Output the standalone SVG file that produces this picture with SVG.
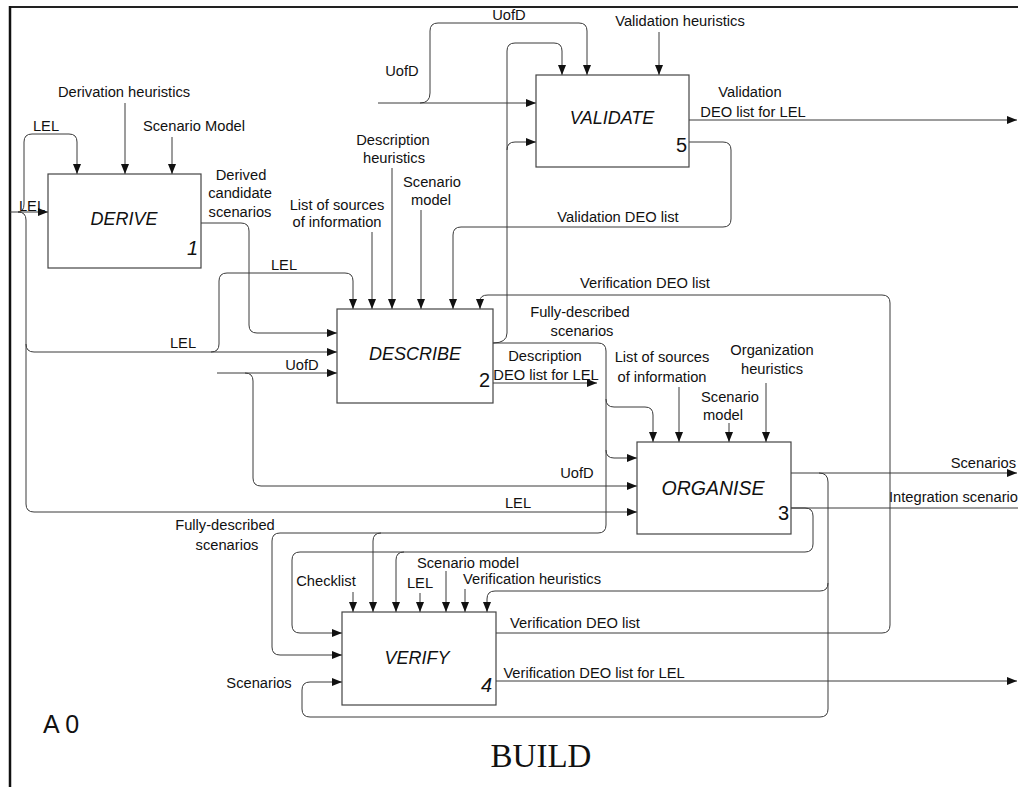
<svg xmlns="http://www.w3.org/2000/svg" width="1018" height="787" viewBox="0 0 1018 787">
<defs>
<marker id="ah" markerUnits="userSpaceOnUse" markerWidth="11" markerHeight="8" refX="10" refY="4" orient="auto">
<path d="M0,0 L10,4 L0,8 z" fill="#111"/>
</marker>
<style>
.box{fill:#fff;stroke:#444;stroke-width:1.2}
.ln{fill:none;stroke:#3a3a3a;stroke-width:1}
.ar{fill:none;stroke:#3a3a3a;stroke-width:1;marker-end:url(#ah)}
.t{font-family:"Liberation Sans",Arial,sans-serif;font-size:14.7px;fill:#111;text-anchor:middle}
.bl{font-family:"Liberation Sans",Arial,sans-serif;font-size:18px;font-style:italic;fill:#111;text-anchor:middle}
.num{font-family:"Liberation Sans",Arial,sans-serif;font-size:20px;fill:#111;text-anchor:end}
</style>
</defs>
<rect width="1018" height="787" fill="#fff"/>
<g id="frame">
<line x1="10" y1="7" x2="1018" y2="7" stroke="#222" stroke-width="2"/>
<line x1="10" y1="6" x2="10" y2="787" stroke="#111" stroke-width="2.5"/>
</g>
<g id="connectors">
<path class="ar" d="M10,212 H48"/>
<path class="ar" d="M18,212 Q24,212 24,204 V142 Q24,134 32,134 H69 Q77,134 77,142 V174"/>
<path class="ar" d="M18,212 Q26,212 26,220 V344 Q26,352 34,352 H337"/>
<path class="ar" d="M26,344 V504 Q26,512 34,512 H637"/>
<path class="ar" d="M211,352 Q219,352 219,344 V281 Q219,273 227,273 H345 Q353,273 353,281 V309"/>
<path class="ar" d="M125,103 V174"/>
<path class="ar" d="M172,137 V174"/>
<path class="ar" d="M201,223 H241 Q249,223 249,231 V325 Q249,333 257,333 H337"/>
<path class="ar" d="M372,232 V309"/>
<path class="ar" d="M392,168 V309"/>
<path class="ar" d="M421,210 V309"/>
<path class="ar" d="M217,373 H337"/>
<path class="ar" d="M245,373 Q253,373 253,381 V478 Q253,486 261,486 H637"/>
<path class="ar" d="M378,103 H536"/>
<path class="ar" d="M420,103 Q430,103 430,93 V31 Q430,23 438,23 H579 Q587,23 587,31 V75"/>
<path class="ar" d="M493,343 Q507,343 507,333 V51 Q507,43 515,43 H554 Q562,43 562,51 V75"/>
<path class="ar" d="M507,150 Q507,142 515,142 H536"/>
<path class="ar" d="M493,343 H598 Q606,343 606,351 V525 Q606,533 598,533 H280 Q272,533 272,541 V647 Q272,655 280,655 H342"/>
<path class="ar" d="M381,533 Q373,533 373,541 V612"/>
<path class="ar" d="M606,399 Q606,407 614,407 H645 Q653,407 653,415 V442"/>
<path class="ar" d="M606,450 Q606,458 614,458 H637"/>
<path class="ar" d="M659,32 V75"/>
<path class="ar" d="M689,120 H1017"/>
<path class="ar" d="M689,142 H723 Q731,142 731,150 V219 Q731,227 723,227 H461 Q453,227 453,235 V309"/>
<path class="ar" d="M496,633 H882 Q890,633 890,625 V303 Q890,295 882,295 H488 Q480,295 480,301 V309"/>
<path class="ar" d="M493,383 H597"/>
<path class="ar" d="M679,387 V442"/>
<path class="ar" d="M729,423 V442"/>
<path class="ar" d="M766,383 V442"/>
<path class="ar" d="M791,473 H1017"/>
<path class="ar" d="M819,473 Q828,473 828,482 V583 Q828,591 820,591 H495 Q487,591 487,599 V612"/>
<path class="ar" d="M828,583 V709 Q828,717 820,717 H310 Q302,717 302,709 V690 Q302,682 310,682 H342"/>
<path class="ln" d="M791,508 H1018"/>
<path class="ar" d="M791,508 H805 Q813,508 813,516 V544 Q813,552 805,552 H300 Q292,552 292,560 V625 Q292,633 300,633 H342"/>
<path class="ar" d="M404,552 Q396,552 396,560 V612"/>
<path class="ar" d="M353,592 V612"/>
<path class="ar" d="M420,593 V612"/>
<path class="ar" d="M446,571 V612"/>
<path class="ar" d="M465,589 V612"/>
<path class="ar" d="M496,681 H1017"/>
</g>
<g id="labels">
<text class="t" x="124" y="97">Derivation heuristics</text>
<text class="t" x="46" y="131">LEL</text>
<text class="t" x="194" y="131">Scenario Model</text>
<text class="t" x="32" y="211">LEL</text>
<text class="t" x="241" y="180">Derived</text>
<text class="t" x="240" y="198">candidate</text>
<text class="t" x="240" y="217">scenarios</text>
<text class="t" x="337" y="210">List of sources</text>
<text class="t" x="337" y="227">of information</text>
<text class="t" x="393" y="145">Description</text>
<text class="t" x="394" y="163">heuristics</text>
<text class="t" x="432" y="187">Scenario</text>
<text class="t" x="431" y="205">model</text>
<text class="t" x="284" y="270">LEL</text>
<text class="t" x="183" y="348">LEL</text>
<text class="t" x="302" y="370">UofD</text>
<text class="t" x="509" y="20">UofD</text>
<text class="t" x="402" y="76">UofD</text>
<text class="t" x="680" y="26">Validation heuristics</text>
<text class="t" x="750" y="97">Validation</text>
<text class="t" x="753" y="117">DEO list for LEL</text>
<text class="t" x="618" y="222">Validation DEO list</text>
<text class="t" x="645" y="288">Verification DEO list</text>
<text class="t" x="580" y="317">Fully-described</text>
<text class="t" x="582" y="336">scenarios</text>
<text class="t" x="545" y="361">Description</text>
<text class="t" x="546" y="380">DEO list for LEL</text>
<text class="t" x="662" y="362">List of sources</text>
<text class="t" x="662" y="382">of information</text>
<text class="t" x="730" y="402">Scenario</text>
<text class="t" x="723" y="420">model</text>
<text class="t" x="772" y="355">Organization</text>
<text class="t" x="772" y="374">heuristics</text>
<text class="t" x="577" y="478">UofD</text>
<text class="t" x="518" y="508">LEL</text>
<text class="t" x="1016" y="468" style="text-anchor:end">Scenarios</text>
<text class="t" x="1018" y="502" style="text-anchor:end">Integration scenario</text>
<text class="t" x="225" y="530">Fully-described</text>
<text class="t" x="227" y="550">scenarios</text>
<text class="t" x="326" y="586">Checklist</text>
<text class="t" x="468" y="568">Scenario model</text>
<text class="t" x="420" y="588">LEL</text>
<text class="t" x="532" y="584">Verification heuristics</text>
<text class="t" x="575" y="628">Verification DEO list</text>
<text class="t" x="594" y="678">Verification DEO list for LEL</text>
<text class="t" x="259" y="688">Scenarios</text>
<text x="43" y="733" style="font-family:'Liberation Sans',Arial,sans-serif;font-size:25px;fill:#111">A 0</text>
<text x="541" y="767" style="font-family:'Liberation Serif','Times New Roman',serif;font-size:33px;fill:#111;text-anchor:middle">BUILD</text>
</g>
<g id="derive">
<rect class="box" x="48" y="174" width="153" height="94"/>
<text class="bl" x="124" y="225">DERIVE</text>
<text class="num" x="198" y="255" font-style="italic">1</text>
</g>
<g id="validate">
<rect class="box" x="536" y="75" width="153" height="92"/>
<text class="bl" x="612" y="124">VALIDATE</text>
<text class="num" x="687" y="152">5</text>
</g>
<g id="describe">
<rect class="box" x="337" y="309" width="156" height="94"/>
<text class="bl" x="415" y="360">DESCRIBE</text>
<text class="num" x="490" y="387">2</text>
</g>
<g id="organise">
<rect class="box" x="637" y="442" width="154" height="92"/>
<text class="bl" x="713" y="495" style="font-size:19.5px">ORGANISE</text>
<text class="num" x="789" y="520">3</text>
</g>
<g id="verify">
<rect class="box" x="342" y="612" width="154" height="93"/>
<text class="bl" x="417" y="664">VERIFY</text>
<text class="num" x="492" y="692" font-style="italic">4</text>
</g>
</svg>
